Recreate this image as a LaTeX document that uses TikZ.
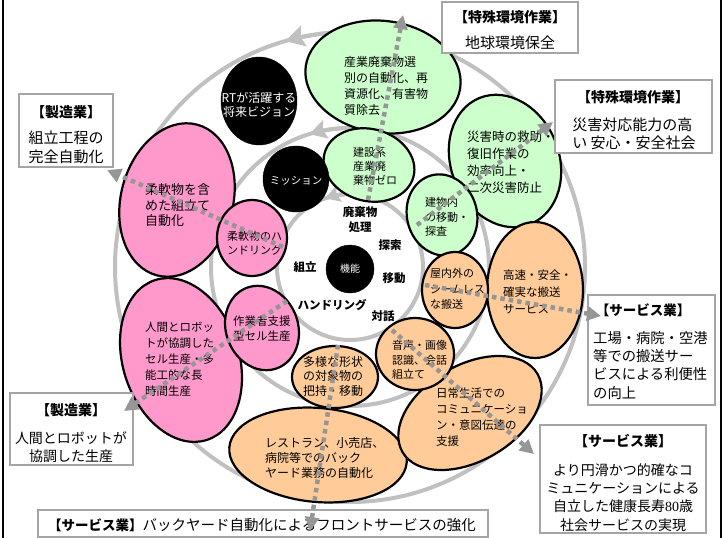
\documentclass[tikz,border=0pt]{standalone}
\usepackage{fontspec}
\setmainfont{Noto Sans CJK JP}
\newfontfamily\tmsfont{Liberation Serif}
\usetikzlibrary{arrows.meta,calc}
\definecolor{pinkf}{RGB}{255,153,204}
\definecolor{greenf}{RGB}{204,255,204}
\definecolor{orangef}{RGB}{255,204,153}
\definecolor{circg}{RGB}{192,192,192}
\definecolor{dotg}{RGB}{150,150,150}
\definecolor{boxg}{RGB}{165,165,165}
\newcommand{\fsz}[2]{\fontsize{#1}{#2}\selectfont}
\begin{document}
\begin{tikzpicture}[x=1pt,y=-1pt,
  ring/.style={draw=circg,line width=4pt},
  ringarrow/.style={draw=circg,line width=4pt,-{Stealth[length=#1,width=#1+2pt,inset=3pt]}},
  ell/.style={draw=black,line width=2.2pt},
  gre/.style={ell,fill=greenf},
  ore/.style={ell,fill=orangef},
  pke/.style={ell,fill=pinkf},
  bke/.style={draw=black,fill=black},
  dotarrow/.style={draw=dotg,line width=4.5pt,dash pattern=on 4.5pt off 4pt,-{Triangle[length=14pt,width=14pt]}},
  txt/.style={anchor=north west,inner sep=0pt,align=left},
  lbl/.style={inner sep=0pt,align=center,font=\fsz{11.5}{15}\bfseries},
  wtxt/.style={inner sep=0pt,align=center,text=white},
  boxst/.style={draw=boxg,line width=1.5pt,fill=white},
  ttl/.style={inner sep=0pt,font=\fsz{14}{17}\bfseries},
  btxt/.style={inner sep=0pt,align=center,font=\fsz{15}{19}},
]
\useasboundingbox (0,0) rectangle (723,538);
% frame lines
\draw[line width=2pt] (3,0) -- (3,538);
\draw[line width=2pt] (721,0) -- (721,538);

% concentric rings
\coordinate (c) at (350,267);
\draw[ring] (c) circle[radius=235];
\draw[ring,fill=white] (c) circle[radius=139];
\draw[ring,fill=white] (c) circle[radius=73];
\draw[ringarrow=19pt] plot[smooth,domain=266:254,samples=8] ({350+235*cos(\x)},{267+235*sin(\x)});
\draw[ringarrow=17pt] plot[smooth,domain=268:253,samples=8] ({350+139*cos(\x)},{267+139*sin(\x)});
\draw[ringarrow=15pt] plot[smooth,domain=272:250,samples=8] ({350+73*cos(\x)},{267+73*sin(\x)});

% green ellipses
\draw[gre,rotate around={-8:(383,77)}] (383,77) ellipse[x radius=78,y radius=56];
\draw[gre,rotate around={-15:(369,165)}] (369,165) ellipse[x radius=46,y radius=36];
\draw[gre,rotate around={-68:(505,161)}] (505,161) ellipse[x radius=68,y radius=54];
\draw[gre,rotate around={-75:(442,215)}] (442,215) ellipse[x radius=41,y radius=35];
% orange ellipses
\draw[ore] (535,290) ellipse[x radius=48,y radius=68];
\draw[ore] (455,290) ellipse[x radius=33,y radius=38];
\draw[ore,rotate around={-5:(318,455)}] (318,455) ellipse[x radius=89,y radius=47];
\draw[ore,rotate around={30:(470,413)}] (470,413) ellipse[x radius=78,y radius=48];
\draw[ore] (415,354) ellipse[x radius=39,y radius=36];
\draw[ore] (335,377) ellipse[x radius=43,y radius=31];
% pink ellipses
\draw[pke,rotate around={75:(177,200)}] (177,200) ellipse[x radius=78,y radius=56];
\draw[pke] (252,238) ellipse[x radius=35,y radius=38];
\draw[pke,rotate around={-72:(181,360)}] (181,360) ellipse[x radius=84,y radius=58];
\draw[pke,rotate around={-69:(262,328)}] (262,328) ellipse[x radius=43,y radius=36];
% black circles
\draw[bke] (259,101) ellipse[x radius=38,y radius=44];
\draw[bke] (296,179) circle[radius=33];
\draw[bke] (350,269) circle[radius=24];

% texts in ellipses
\node[txt,font=\fsz{12}{16}] (t1) at (344,56) {産業廃棄物選\\別の自動化、再\\資源化、有害物\\質除去};
\node[txt,font=\fsz{11}{14}] (t2) at (353,147.5) {建設系\\産業廃\\棄物ゼロ};
\node[txt,font=\fsz{12.5}{17}] (t3) at (467,130.8) {災害時の救助・\\復旧作業の\\効率向上・\\二次災害防止};
\node[txt,font=\fsz{11}{14.5}] (t4) at (425,197.5) {建物内\\の移動・\\探査};
\node[txt,font=\fsz{11}{15.5}] (t5) at (430,268.5) {屋内外の\\シームレス\\な搬送};
\node[txt,font=\fsz{11.5}{17}] (t6) at (503,269.2) {高速・安全・\\確実な搬送\\サービス};
\node[txt,font=\fsz{11}{14.5}] (t7) at (392,340.5) {音声・画像\\認識、会話\\組立て};
\node[txt,font=\fsz{11.5}{16}] (t8) at (436,387.2) {日常生活での\\コミュニケーショ\\ン・意図伝達の\\支援};
\node[txt,font=\fsz{12}{14.5}] (t9) at (303,356) {多様な形状\\の対象物の\\把持・移動};
\node[txt,font=\fsz{12}{15}] (t10) at (265,437) {レストラン、小売店、\\病院等でのバック\\ヤード業務の自動化};
\node[txt,font=\fsz{13}{15.5}] (t11) at (145,183.5) {柔軟物を含\\めた組立て\\自動化};
\node[txt,font=\fsz{11}{13.5}] (t12) at (227,231.5) {柔軟物のハ\\ンドリング};
\node[txt,font=\fsz{11.5}{15.8}] (t13) at (145,322.2) {人間とロボッ\\トが協調した\\セル生産・多\\能工的な長\\時間生産};
\node[txt,font=\fsz{11.5}{15}] (t14) at (233,315.2) {作業者支援\\型セル生産};
\node[wtxt,font=\fsz{12}{14.5}] (t15) at (259,105) {RTが活躍する\\将来ビジョン};
\node[wtxt,font=\fsz{10.5}{12}] (t16) at (296,181) {ミッション};
\node[wtxt,font=\fsz{10}{12}] (t17) at (350,269) {機能};

% inner labels
\node[lbl] (l1) at (360,220) {廃棄物\\処理};
\node[lbl] (l2) at (390,245) {探索};
\node[lbl] (l3) at (305,267) {組立};
\node[lbl] (l4) at (394,278) {移動};
\node[lbl] (l5) at (332,305) {ハンドリング};
\node[lbl] (l6) at (383,316) {対話};

% boxes
\draw[boxst] (442,2) rectangle (578,53);
\node[ttl] (bA1) at (510,17) {【特殊環境作業】};
\node[btxt] (bA2) at (510,43) {地球環境保全};

\draw[boxst] (555,80) rectangle (712,153);
\node[ttl] (bB1) at (633,97) {【特殊環境作業】};
\node[btxt,align=left,font=\fsz{15}{18}] (bB2) at (634,134) {災害対応能力の高\\い 安心・安全社会};

\draw[boxst] (19,94) rectangle (113,167);
\node[ttl] (bC1) at (66,112) {【製造業】};
\node[btxt] (bC2) at (66,147.5) {組立工程の\\完全自動化};

\draw[boxst] (588,295) rectangle (715,405);
\node[ttl,font=\fsz{13.5}{17}\bfseries] (bD1) at (643,310) {【サービス業】};
\node[txt,font=\fsz{14.3}{18.3}] (bD2) at (593,331) {工場・病院・空港\\等での搬送サー\\ビスによる利便性\\の向上};

\draw[boxst] (10,393) rectangle (133,465);
\node[ttl] (bE1) at (71,410) {【製造業】};
\node[btxt,font=\fsz{14}{18}] (bE2) at (71,447) {人間とロボットが\\協調した生産};

\draw[boxst] (540,425) rectangle (706,533);
\node[ttl] (bF1) at (623,441) {【サービス業】};
\node[btxt,font=\fsz{14}{18.3}] (bF2) at (623,497.5) {より円滑かつ的確なコ\\ミュニケーションによる\\自立した健康長寿{\tmsfont 80}歳\\社会サービスの実現};

\draw[boxst] (38,510) rectangle (488,537);
\node[inner sep=0pt,anchor=west,font=\fsz{14.5}{17}] (bG) at (48,525) {{\fsz{13.5}{17}\bfseries 【サービス業】}バックヤード自動化によるフロントサービスの強化};

% dotted arrows
\coordinate (a1) at (368,200); \coordinate (a1e) at (403,15);
\coordinate (b1) at (417,225); \coordinate (b1e) at (553,122);
\coordinate (c1) at (425,285); \coordinate (c1e) at (601,316);
\coordinate (d1) at (392,330); \coordinate (d1e) at (534,454);
\coordinate (e1) at (338,345); \coordinate (e1e) at (310,531);
\coordinate (f1) at (287,301); \coordinate (f1e) at (124,411);
\coordinate (g1) at (283,247); \coordinate (g1e) at (107,170);
\draw[dotarrow] (a1) -- (a1e);
\draw[dotarrow] (b1) -- (b1e);
\draw[dotarrow] (c1) -- (c1e);
\draw[dotarrow] (d1) -- (d1e);
\draw[dotarrow] (e1) -- (e1e);
\draw[dotarrow] (f1) -- (f1e);
\draw[dotarrow] (g1) -- (g1e);
\end{tikzpicture}
\end{document}
